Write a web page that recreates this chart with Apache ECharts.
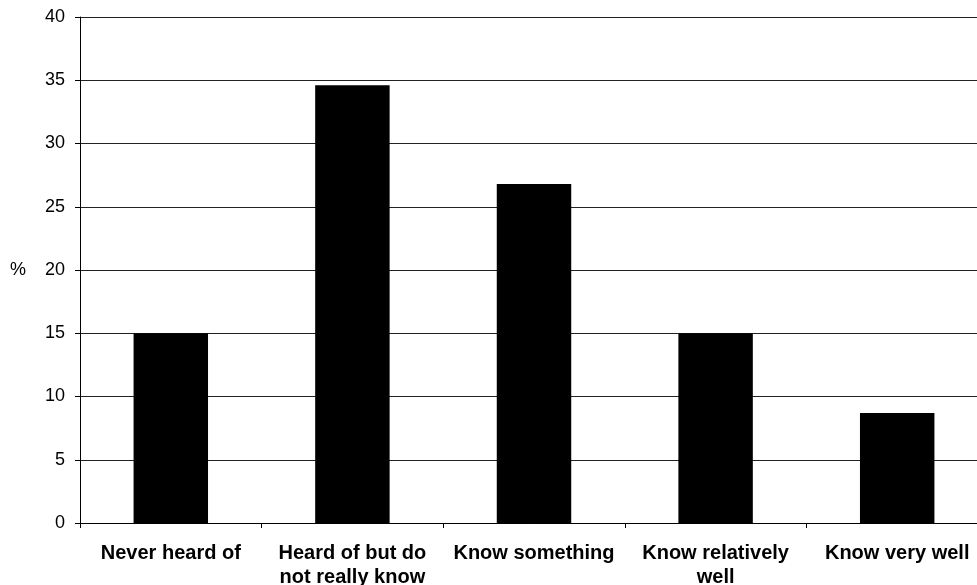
<!DOCTYPE html>
<html>
<head>
<meta charset="utf-8">
<script src="https://cdn.jsdelivr.net/npm/echarts@6/dist/echarts.min.js"></script>
<style>
  html, body { margin: 0; padding: 0; background: #fff; }
  #chart { width: 977px; height: 585px; }
</style>
</head>
<body>
<div id="chart"></div>
<script>
// Awareness levels and share of respondents (%)
const categories = [
  'Never heard of',
  'Heard of but do\nnot really know',
  'Know something',
  'Know relatively\nwell',
  'Know very well'
];
const shares = [15.0, 34.6, 26.8, 15.0, 8.7];
const yTicks = { min: 0, max: 40, interval: 5 };

const chart = echarts.init(document.getElementById('chart'), null, { renderer: 'canvas' });

const font = 'Liberation Sans, Arial, sans-serif';

chart.setOption({
  animation: false,
  backgroundColor: '#ffffff',
  // the plot runs a little past the right edge of the canvas
  grid: { left: 80, top: 17, right: -11, bottom: 62, containLabel: false, outerBoundsMode: 'none' },
  xAxis: {
    type: 'category',
    data: categories,
    boundaryGap: true,
    axisLine: { lineStyle: { color: '#000', width: 1 } },
    axisTick: { show: true, length: 5, inside: false, lineStyle: { color: '#000' } },
    axisLabel: {
      interval: 0,
      margin: 18,
      color: '#000',
      fontFamily: font,
      fontWeight: 'bold',
      fontSize: 20,
      lineHeight: 24
    },
    splitLine: { show: false }
  },
  yAxis: {
    type: 'value',
    min: yTicks.min,
    max: yTicks.max,
    interval: yTicks.interval,
    name: '%',
    nameLocation: 'middle',
    nameRotate: 0,
    nameGap: 54,
    nameTextStyle: { color: '#000', fontFamily: font, fontSize: 18 },
    axisLine: { show: true, lineStyle: { color: '#000', width: 1 } },
    axisTick: { show: true, length: 5, lineStyle: { color: '#000' } },
    axisLabel: {
      margin: 15,
      color: '#000',
      fontFamily: font,
      fontSize: 18
    },
    splitLine: { show: true, lineStyle: { color: '#222', width: 1 } }
  },
  series: [{
    type: 'bar',
    data: shares,
    barWidth: '41%',
    itemStyle: { color: '#000' }
  }]
});
</script>
</body>
</html>
